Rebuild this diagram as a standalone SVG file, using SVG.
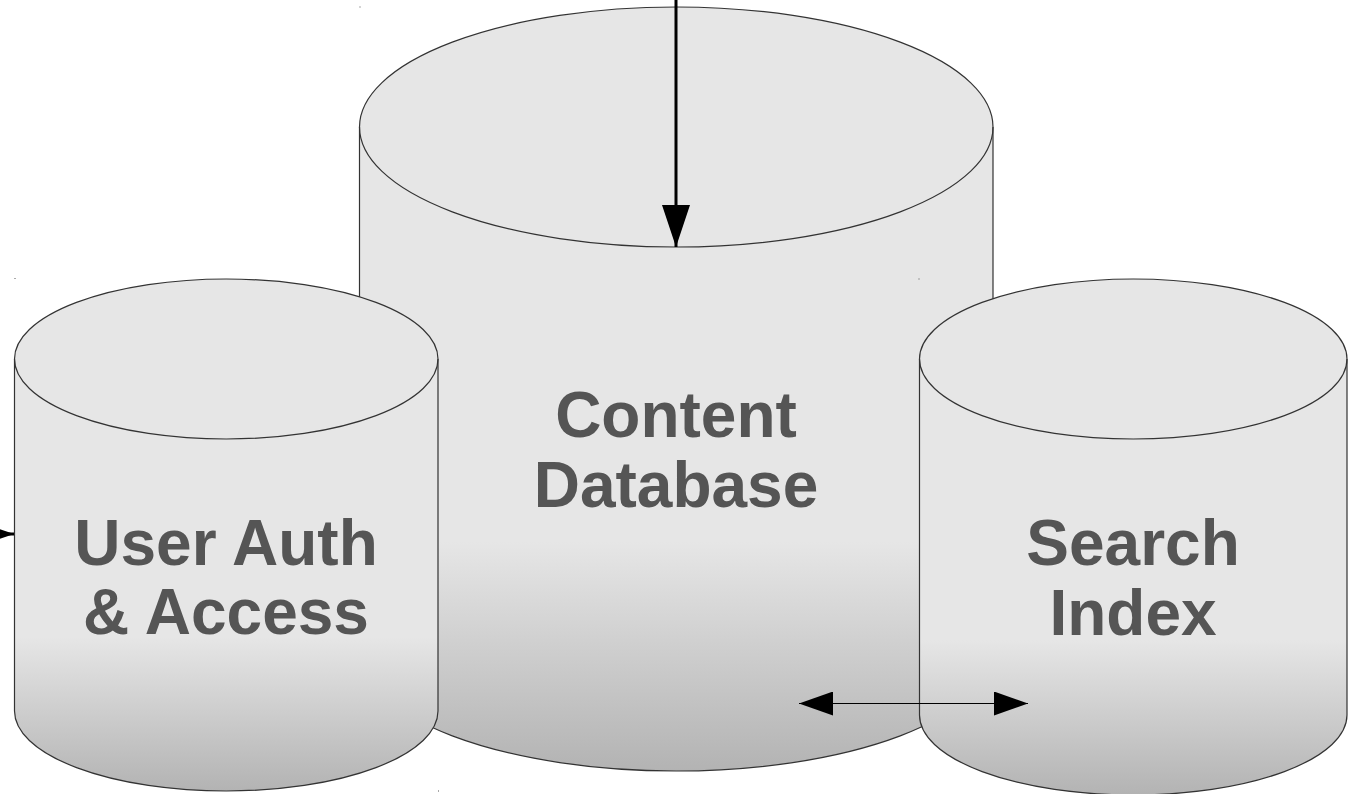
<svg xmlns="http://www.w3.org/2000/svg" width="1359" height="794" viewBox="0 0 1359 794">
<defs>
<linearGradient id="g" x1="0" y1="0" x2="0" y2="1">
<stop offset="0" stop-color="#e6e6e6"/>
<stop offset="0.7" stop-color="#e6e6e6"/>
<stop offset="1" stop-color="#b3b3b3"/>
</linearGradient>
<marker id="ah" markerUnits="userSpaceOnUse" markerWidth="42" markerHeight="28" viewBox="0 0 42 28" refX="42" refY="14" orient="auto">
<path d="M0,0 L42,14 L0,28 Z" fill="#000"/>
</marker>
<marker id="sh" markerUnits="userSpaceOnUse" markerWidth="34" markerHeight="24" viewBox="0 0 34 24" refX="34" refY="12" orient="auto-start-reverse">
<path d="M0,0 L34,12 L0,24 Z" fill="#000"/>
</marker>
</defs>
<style>
.body{fill:url(#g);stroke:#333;stroke-width:1.2}
.rim{fill:none;stroke:#333;stroke-width:1.2}
.lbl{font-family:"Liberation Sans",Arial,sans-serif;font-weight:bold;font-size:64px;fill:#555;text-anchor:middle}
.dot{fill:#555}
</style>
<rect width="1359" height="794" fill="#fff"/>
<g id="content-db">
<path class="body" d="M359.5,127 A316.75,120 0 0 1 993,127 L993,651 A316.75,120 0 0 1 359.5,651 Z"/>
<path class="rim" d="M359.5,127 A316.75,120 0 0 0 993,127"/>
<text class="lbl" x="676" y="437">Content</text>
<text class="lbl" x="676" y="507">Database</text>
</g>
<g id="user-auth">
<path class="body" d="M14.5,359 A211.75,80 0 0 1 438,359 L438,711 A211.75,80 0 0 1 14.5,711 Z"/>
<path class="rim" d="M14.5,359 A211.75,80 0 0 0 438,359"/>
<text class="lbl" x="226" y="565">User Auth</text>
<text class="lbl" x="226" y="634">&amp; Access</text>
</g>
<g id="search-index">
<path class="body" d="M919.5,359 A213.75,80 0 0 1 1347,359 L1347,715 A213.75,80 0 0 1 919.5,715 Z"/>
<path class="rim" d="M919.5,359 A213.75,80 0 0 0 1347,359"/>
<text class="lbl" x="1133" y="565">Search</text>
<text class="lbl" x="1133" y="635">Index</text>
</g>
<g id="connectors">
<line x1="676" y1="-5" x2="676" y2="247" stroke="#000" stroke-width="3" marker-end="url(#ah)"/>
<line x1="-120" y1="534" x2="14" y2="534" stroke="#000" stroke-width="3" marker-end="url(#ah)"/>
<line x1="799" y1="703.5" x2="1028" y2="703.5" stroke="#000" stroke-width="1.2" marker-start="url(#sh)" marker-end="url(#sh)"/>
</g>
<g id="marks">
<rect class="dot" x="359.5" y="6.5" width="1" height="1"/>
<rect class="dot" x="14.5" y="278" width="1" height="1"/>
<rect class="dot" x="918.5" y="278.5" width="1" height="1"/>
<rect class="dot" x="438" y="790.5" width="1" height="1"/>
</g>
</svg>
